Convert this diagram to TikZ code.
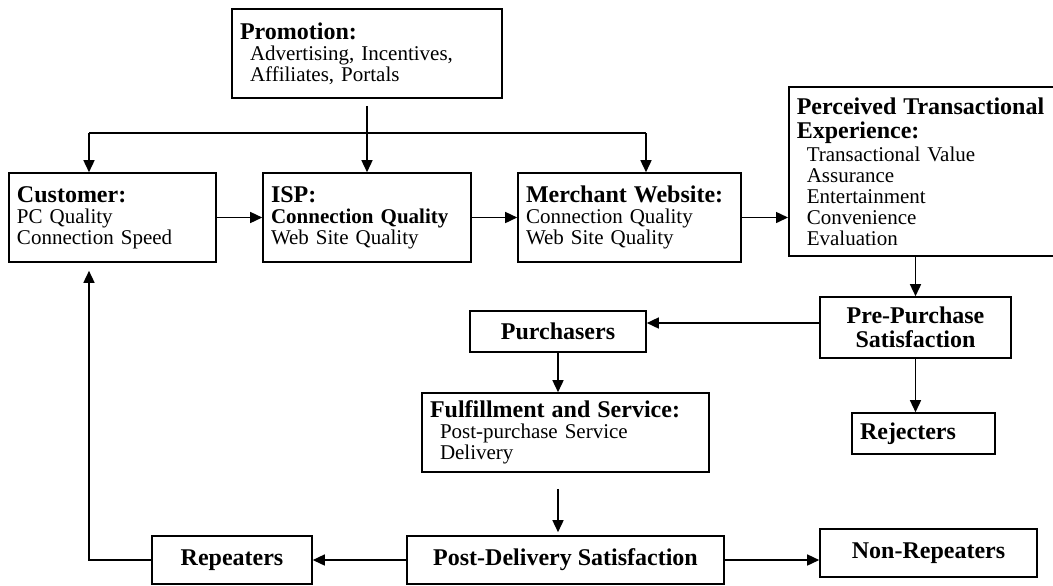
\documentclass[tikz,border=0pt]{standalone}
\usepackage{fontspec}
\setmainfont{Liberation Serif}
\usepackage{tikz}
\usetikzlibrary{calc}
\usetikzlibrary{arrows.meta}

\newcommand{\hd}[1]{{\fontsize{12}{12}\selectfont\bfseries #1}}
\newcommand{\ind}{\hspace*{5pt}}

\begin{document}
\begin{tikzpicture}[x=0.5pt, y=-0.5pt,
  box/.style={draw, line width=0.8pt, inner xsep=4pt, inner ysep=0pt, align=left, font=\fontsize{10.5}{10.5}\selectfont},
  cbox/.style={draw, line width=0.8pt, inner sep=0pt, align=center, font=\fontsize{12}{12}\selectfont\bfseries},
  link/.style={line width=0.75pt, -{Triangle[length=6pt,width=5.5pt]}}]
\useasboundingbox (0,0) rectangle (1053,585);
\node[name=promo, box, text width=127pt, minimum height=44.5pt] at (367,53.5)
  {\hd{Promotion:}\\ \ind Advertising, Incentives,\\ \ind Affiliates, Portals};
\node[name=customer, box, text width=95.5pt, minimum height=44.5pt] at (112.5,217.5)
  {\hd{Customer:}\\ PC Quality\\ Connection Speed};
\node[name=isp, box, text width=96pt, minimum height=44.5pt] at (367,217.5)
  {\hd{ISP:}\\ \textbf{Connection Quality}\\ Web Site Quality};
\node[name=merchant, box, text width=103.5pt, minimum height=44.5pt] at (629.5,217.5)
  {\hd{Merchant Website:}\\ Connection Quality\\ Web Site Quality};
\node[name=perceived, box, anchor=west, text width=126pt, minimum height=84.5pt] at (788,171.5)
  {\hd{Perceived Transactional}\\[1.5pt] \hd{Experience:}\\[1pt] \ind Transactional Value\\ \ind Assurance\\
   \ind Entertainment\\ \ind Convenience\\ \ind Evaluation};
\node[name=prepurchase, cbox, minimum width=95.5pt, minimum height=30.5pt] at (915.5,327.5)
  {Pre-Purchase\\ Satisfaction};
\node[name=purchasers, cbox, minimum width=88pt, minimum height=20.5pt] at (558,331.5) {Purchasers};
\node[name=rejecters, box, text width=63.5pt, minimum height=20.5pt] at (923.5,433.5) {\hd{Rejecters}};
\node[name=fulfil, box, text width=135.5pt, minimum height=39.5pt] at (565.5,432.5)
  {\hd{Fulfillment and Service:}\\ \ind Post-purchase Service\\ \ind Delivery};
\node[name=postdelivery, cbox, minimum width=158.5pt, minimum height=24pt] at (565.5,560) {Post-Delivery Satisfaction};
\node[name=repeaters, cbox, minimum width=80pt, minimum height=24pt] at (232,560) {Repeaters};
\node[name=nonrepeaters, cbox, minimum width=108.5pt, minimum height=24pt] at (928.5,553) {Non-Repeaters};

\coordinate (split) at (89,133);
\coordinate (mdrop) at (646,133);
\draw[line width=0.75pt] (split) -- (mdrop);
\draw[link] (split) -- (split |- customer.north);
\draw[link] (mdrop) -- (mdrop |- merchant.north);
\draw[link] ([yshift=-3.5pt]promo.south) -- (isp.north);
\draw[link] (customer.east) -- (isp.west);
\draw[link] (isp.east) -- (merchant.west);
\draw[link] (merchant.east) -- (merchant.east -| perceived.west);
\draw[link] (prepurchase.north |- perceived.south) -- (prepurchase.north);
\draw[link] ($(prepurchase.west)+(0,-4.5)$) -- ($(prepurchase.west -| purchasers.east)+(0,-4.5)$);
\draw[link] (prepurchase.south) -- (prepurchase.south |- rejecters.north);
\draw[link] (purchasers.south) -- (purchasers.south |- fulfil.north);
\draw[link] ($(purchasers.south |- fulfil.south)+(0,16)$) -- ($(purchasers.south |- postdelivery.north)+(0,-3)$);
\draw[link] (postdelivery.west) -- (repeaters.east);
\draw[link] (postdelivery.east) -- (postdelivery.east -| nonrepeaters.west);
\draw[link] (repeaters.west) -| ($(split |- customer.south)+(0,8)$);
\end{tikzpicture}
\end{document}
